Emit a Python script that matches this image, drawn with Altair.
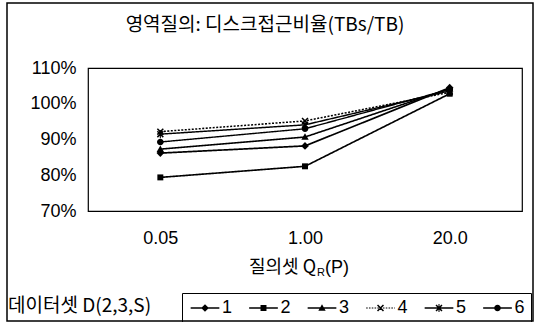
import altair as alt
import pandas as pd

# Query-set sizes along the x axis
categories = ["0.05", "1.00", "20.0"]

# Disk access ratio (TBs/TB) per data set D(2,3,S), in percent
series_names = ["1", "2", "3", "4", "5", "6"]
s1 = [86.2, 88.2, 104.5]
s2 = [79.4, 82.5, 102.8]
s3 = [87.3, 90.7, 104.2]
s4 = [92.2, 95.2, 103.2]
s5 = [91.5, 94.1, 103.6]
s6 = [89.3, 93.0, 104.0]
series_values = [s1, s2, s3, s4, s5, s6]

rows = []
for name, vals in zip(series_names, series_values):
    for cat, v in zip(categories, vals):
        rows.append({"set": name, "q": cat, "ratio": v / 100.0, "lset": name})
df = pd.DataFrame(rows)

LATIN = "Liberation Sans, Arial, Noto Sans CJK KR"
HANGUL = "Noto Sans CJK KR"
FS = 18
FS_KR = 19

# Marker outlines in unit coordinates, all drawn as filled shapes (clockwise)
W = 0.3
bar_a = f"M-1,{-1 + W}L{-1 + W},-1L1,{1 - W}L{1 - W},1Z"
bar_b = f"M1,{-1 + W}L{-1 + W},1L-1,{1 - W}L{1 - W},-1Z"
bar_v = f"M{-W / 2},-1.15L{W / 2},-1.15L{W / 2},1.15L{-W / 2},1.15Z"
markers = [
    "M0,-1.1L1.1,0L0,1.1L-1.1,0Z",                           # diamond
    "M-0.85,-0.85H0.85V0.85H-0.85Z",                         # square
    "M0,-1.05L1.05,0.8H-1.05Z",                              # triangle
    bar_a + bar_b,                                           # x
    bar_a + bar_b + bar_v,                                   # asterisk
    "M-0.95,0A0.95,0.95,0,1,1,0.95,0A0.95,0.95,0,1,1,-0.95,0Z",  # circle
]

# Legend symbols: a short line segment (solid or dotted) through each marker
HALF = 4.1
solid = f"M{-HALF},-0.2H{HALF}V0.2H{-HALF}Z"
dotted = ""
pos = -HALF
while pos < HALF:
    end = min(pos + 0.45, HALF)
    dotted += f"M{pos:.2f},-0.14H{end:.2f}V0.14H{pos:.2f}Z"
    pos += 0.8
legend_shapes = [(dotted if i == 3 else solid) + m for i, m in enumerate(markers)]

dashes = [[1, 0], [1, 0], [1, 0], [2, 1.5], [1, 0], [1, 0]]
widths = [1.7, 1.4, 1.7, 1.0, 1.7, 1.7]

x_enc = alt.X("q:N", sort=categories, title=None,
              scale=alt.Scale(paddingInner=0, paddingOuter=0),
              axis=alt.Axis(labelAngle=0, labelFont=LATIN, labelFontSize=FS,
                            labelColor="black", labelPadding=27, ticks=False,
                            domain=False, grid=False, labelBaseline="middle"))
y_enc = alt.Y("ratio:Q", title=None,
              scale=alt.Scale(domain=[0.7, 1.1], nice=False, zero=False),
              axis=alt.Axis(values=[0.7, 0.8, 0.9, 1.0, 1.1], format=".0%",
                            labelFont=LATIN, labelFontSize=FS, labelColor="black",
                            labelPadding=12, ticks=False, domain=False, grid=False))

base = alt.Chart(df)

lines = base.mark_line(color="black").encode(
    x=x_enc, y=y_enc, detail="set:N",
    strokeDash=alt.StrokeDash("set:N", scale=alt.Scale(domain=series_names, range=dashes), legend=None),
    strokeWidth=alt.StrokeWidth("set:N", scale=alt.Scale(domain=series_names, range=widths), legend=None),
)

points = base.mark_point(filled=True, fill="black", opacity=1, size=49).encode(
    x=x_enc, y=y_enc,
    shape=alt.Shape("set:N", scale=alt.Scale(domain=series_names, range=markers), legend=None),
)

legend_layer = base.mark_point(filled=True, fill="black", opacity=0, size=49).encode(
    x=x_enc, y=y_enc,
    shape=alt.Shape("lset:N", scale=alt.Scale(domain=series_names, range=legend_shapes),
                    legend=alt.Legend(title=None, orient="none", direction="horizontal",
                                      legendX=94, legendY=225, padding=6,
                                      strokeColor="black", symbolSize=49,
                                      symbolFillColor="black", symbolStrokeWidth=0,
                                      symbolOpacity=1,
                                      symbolOffset=8, labelOffset=8, columnPadding=13.5,
                                      labelFont=LATIN, labelFontSize=FS, labelColor="black")),
)

def label(text, x, y, size=FS, font=HANGUL, align="left"):
    return alt.Chart(pd.DataFrame({"t": [text]})).mark_text(
        font=font, fontSize=size, align=align, baseline="middle", color="black"
    ).encode(text="t:N", x=alt.value(x), y=alt.value(y))

title = label("영역질의: 디스크접근비율(TBs/TB)", 177, -43, size=FS_KR, align="center")
xtitle_a = label("질의셋 Q", 228, 200, align="right")
xtitle_r = label("R", 229, 205, size=11, font=LATIN)
xtitle_b = label("(P)", 237, 200, font=LATIN)
legend_title = label("데이터셋 D(2,3,S)", -80, 238, size=FS_KR)

frame = alt.Chart(pd.DataFrame({"k": [0]})).mark_rect(
    fill=None, stroke="black", strokeWidth=1.5
).encode(x=alt.value(-81), x2=alt.value(445), y=alt.value(-65), y2=alt.value(253))

chart = alt.layer(
    frame, lines, points, legend_layer, title, xtitle_a, xtitle_r, xtitle_b, legend_title
).resolve_scale(
    shape="independent"
).properties(
    width=434, height=143,
    autosize=alt.AutoSizeParams(type="none"),
    padding={"left": 88, "top": 68, "right": 15, "bottom": 111},
    background="white",
).configure_view(
    stroke="black", strokeWidth=1.2
)

chart.save("out.html", embed_options={"renderer": "svg", "actions": False})
